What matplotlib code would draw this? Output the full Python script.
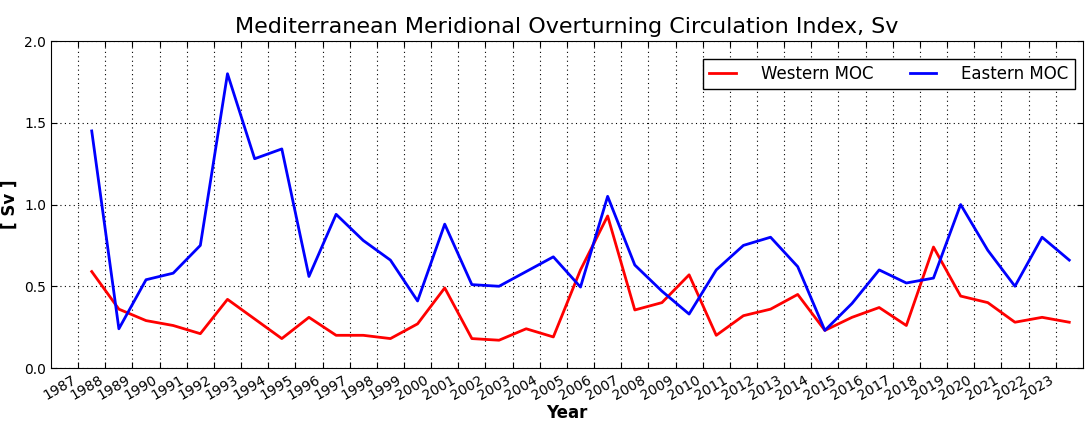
import numpy as np
import matplotlib
matplotlib.use("Agg")
import matplotlib.pyplot as plt
import matplotlib.transforms as mtransforms

years = np.arange(1987, 2024)
western = [0.59, 0.36, 0.29, 0.26, 0.21, 0.42, 0.30, 0.18, 0.31, 0.20,
           0.20, 0.18, 0.27, 0.49, 0.18, 0.17, 0.24, 0.19, 0.60, 0.93,
           0.355, 0.40, 0.57, 0.20, 0.32, 0.36, 0.45, 0.23, 0.31, 0.37,
           0.26, 0.74, 0.44, 0.40, 0.28, 0.31, 0.28]
eastern = [1.45, 0.24, 0.54, 0.58, 0.75, 1.80, 1.28, 1.34, 0.56, 0.94,
           0.78, 0.66, 0.41, 0.88, 0.51, 0.50, 0.59, 0.68, 0.495, 1.05,
           0.63, 0.47, 0.33, 0.60, 0.75, 0.80, 0.62, 0.23, 0.395, 0.60,
           0.52, 0.55, 1.00, 0.72, 0.50, 0.80, 0.66]

fig, ax = plt.subplots(figsize=(10.85, 4.23), dpi=100)
fig.subplots_adjust(left=0.047, right=0.998, top=0.903, bottom=0.13)

# values are yearly means, plotted mid-year
ax.plot(years + 0.5, western, color='red', lw=2, label='Western MOC')
ax.plot(years + 0.5, eastern, color='blue', lw=2, label='Eastern MOC')

ax.set_xlim(1986, 2024)
ax.set_ylim(0, 2)
ax.set_xticks(years)
ax.set_xticklabels([str(y) for y in years], rotation=30, ha='right', fontsize=10)
# nudge rotated labels a bit to the right, like the original
shift = mtransforms.ScaledTranslation(0.06, 0, fig.dpi_scale_trans)
for lbl in ax.get_xticklabels():
    lbl.set_transform(lbl.get_transform() + shift)
ax.set_yticks([0.0, 0.5, 1.0, 1.5, 2.0])
ax.set_yticklabels(['0.0', '0.5', '1.0', '1.5', '2.0'], fontsize=10)
ax.tick_params(direction='in', top=True, right=True, length=4)
ax.grid(True, color='black', linestyle=(0, (1, 3)), linewidth=0.8)
for s in ax.spines.values():
    s.set_color('black')

ax.set_title('Mediterranean Meridional Overturning Circulation Index, Sv', fontsize=16)
ax.set_xlabel('Year', fontsize=12, fontweight='bold', labelpad=1)
ax.set_ylabel('[ Sv ]', fontsize=12, fontweight='bold')

leg = ax.legend(loc='upper right', bbox_to_anchor=(0.992, 0.945), ncol=2,
                fontsize=12, fancybox=False, edgecolor='black', framealpha=1,
                columnspacing=2.2, handlelength=1.6, handletextpad=1.5,
                borderaxespad=0, borderpad=0.35)
leg.get_frame().set_linewidth(1)

fig.savefig('out.png', dpi=100)
